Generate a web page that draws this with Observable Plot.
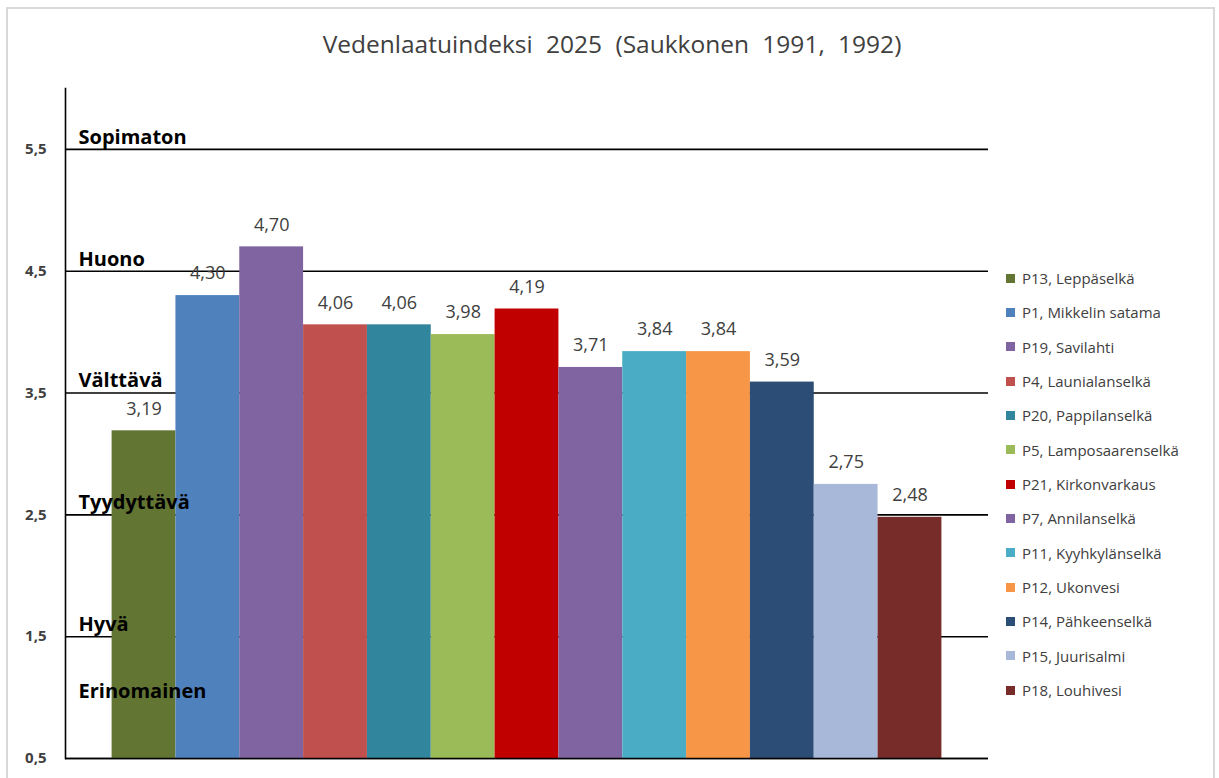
<!DOCTYPE html>
<html>
<head>
<meta charset="utf-8">
<script src="https://cdn.jsdelivr.net/npm/d3@7"></script>
<script src="https://cdn.jsdelivr.net/npm/@observablehq/plot@0.6"></script>
<style>
  html, body { margin: 0; padding: 0; background: #fff; }
  body { width: 1219px; height: 778px; overflow: hidden; font-family: "Open Sans", sans-serif; }
  #wrap { position: relative; width: 1219px; height: 778px; }
  #border { position: absolute; left: 6px; top: 7px; width: 1209px; height: 790px; border: 2px solid #d9d9d9; box-sizing: border-box; }
  #title { position: absolute; left: 0; top: 27px; width: 1224px; text-align: center; font-size: 24.5px; color: #404040; word-spacing: 7px; line-height: 34px; }
  #chart { position: absolute; left: 0; top: 0; }
  #legend { position: absolute; left: 1006px; top: 261px; }
  .row { height: 34.33px; display: flex; align-items: center; font-size: 15px; color: #404040; white-space: nowrap; }
  .sw { width: 9px; height: 9px; margin-right: 7px; flex: none; }
</style>
</head>
<body>
<div id="wrap">
  <div id="border"></div>
  <div id="chart"></div>
  <div id="title">Vedenlaatuindeksi 2025 (Saukkonen 1991, 1992)</div>
  <div id="legend"></div>
</div>
<script>
const sites = ["P13, Leppäselkä","P1, Mikkelin satama","P19, Savilahti","P4, Launialanselkä","P20, Pappilanselkä","P5, Lamposaarenselkä","P21, Kirkonvarkaus","P7, Annilanselkä","P11, Kyyhkylänselkä","P12, Ukonvesi","P14, Pähkeenselkä","P15, Juurisalmi","P18, Louhivesi"];
const values = [3.19, 4.30, 4.70, 4.06, 4.06, 3.98, 4.19, 3.71, 3.84, 3.84, 3.59, 2.75, 2.48];
const colors = ["#637532","#4F81BD","#8064A2","#C0504D","#31859C","#9BBB59","#C00000","#8064A2","#4BACC6","#F79646","#2C4D75","#A8B8D9","#772C2A"];
const classNames = ["Sopimaton","Huono","Välttävä","Tyydyttävä","Hyvä","Erinomainen"];
const classLower = [5.5, 4.5, 3.5, 2.5, 1.5, 0.5];
const classUpper = [6.5, 5.5, 4.5, 3.5, 2.5, 1.5];
const yTicks = [0.5, 1.5, 2.5, 3.5, 4.5, 5.5];

const fmt = v => v.toFixed(2).replace(".", ",");
const fmtTick = v => v.toFixed(1).replace(".", ",");

const data = sites.map((s, i) => ({site: s, value: values[i]}));
// class labels sit just above their lower bound; the best class sits mid-band
const classes = classNames.map((n, i) => ({
  name: n,
  y: i === classNames.length - 1 ? (classLower[i] + classUpper[i]) / 2 : classLower[i],
  mid: i === classNames.length - 1
}));

const chart = Plot.plot({
  width: 1219,
  height: 778,
  marginLeft: 65,
  marginRight: 231,
  marginTop: 88,
  marginBottom: 20,
  style: {fontFamily: "Open Sans, sans-serif", background: "transparent"},
  x: {type: "band", domain: sites, paddingInner: 0, paddingOuter: 0.73, round: false, axis: null},
  y: {domain: [0.5, 6.0], axis: null},
  color: {domain: sites, range: colors},
  marks: [
    Plot.ruleY(yTicks, {stroke: "#000", strokeWidth: 1.6}),
    Plot.barY(data, {x: "site", y1: 0.5, y2: "value", fill: "site", inset: 0}),
    Plot.frame({anchor: "left", stroke: "#000", strokeWidth: 1.6}),
    Plot.ruleY([0.5], {stroke: "#000", strokeWidth: 1.6}),
    // y tick labels
    Plot.text(yTicks, {y: d => d, text: d => fmtTick(d), frameAnchor: "left", textAnchor: "end", dx: -19, fontSize: 15, fontWeight: "bold", fill: "#404040"}),
    Plot.text(data, {x: "site", y: "value", text: d => fmt(d.value), dy: -22, fontSize: 18, fill: "#404040"}),
    Plot.text(classes.filter(d => !d.mid), {y: "y", text: "name", frameAnchor: "left", textAnchor: "start", dx: 13, dy: -12, fontSize: 20, fontWeight: "bold", fill: "#000"}),
    Plot.text(classes.filter(d => d.mid), {y: "y", text: "name", frameAnchor: "left", textAnchor: "start", dx: 13, dy: -6, fontSize: 20, fontWeight: "bold", fill: "#000"})
  ]
});
document.getElementById("chart").appendChild(chart);

const legend = document.getElementById("legend");
sites.forEach((s, i) => {
  const row = document.createElement("div");
  row.className = "row";
  const sw = document.createElement("span");
  sw.className = "sw";
  sw.style.background = colors[i];
  const t = document.createElement("span");
  t.textContent = s;
  row.appendChild(sw);
  row.appendChild(t);
  legend.appendChild(row);
});
</script>
</body>
</html>
